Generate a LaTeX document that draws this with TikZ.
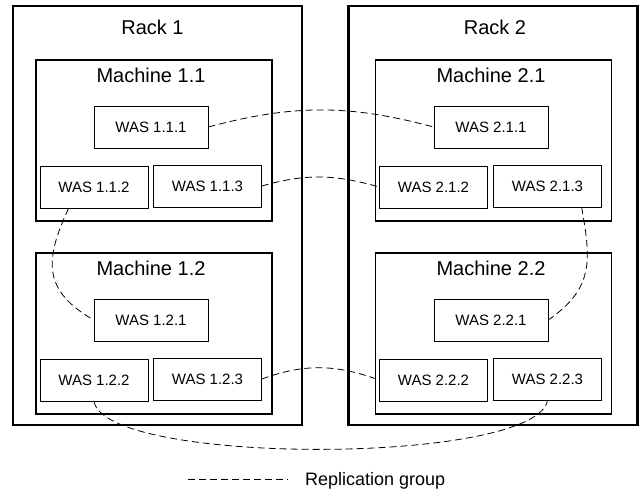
\documentclass[tikz,border=0pt]{standalone}
\usepackage{fontspec}
\setmainfont{Liberation Sans}

\begin{document}
\begin{tikzpicture}[x=1pt,y=1pt,
    rack/.style={draw,rectangle,line width=2.2pt,minimum width=289pt,minimum height=419pt},
    machine/.style={draw,rectangle,line width=1.2pt,minimum width=236pt,minimum height=161pt},
    was/.style={draw,rectangle,line width=0.7pt,minimum height=42pt,font=\fontsize{15}{18}\selectfont},
    title/.style={inner sep=0pt,anchor=base,font=\fontsize{20}{24}\selectfont},
    repl/.style={line width=0.8pt,dash pattern=on 7pt off 4pt}]
    \useasboundingbox (0,0) rectangle (640,-494);

    % Racks
    \node[rack] (rack1) at (157.5,-215.5) {};
    \node[rack] (rack2) at (493,-215.5) {};
    \node[title] (rack1t) at (152.5,-35) {Rack 1};
    \node[title] (rack2t) at (495,-35) {Rack 2};

    % Machines
    \node[machine] (m11) at (154,-140.5) {};
    \node[machine] (m12) at (154,-333.5) {};
    \node[machine] (m21) at (493.5,-140.5) {};
    \node[machine] (m22) at (493.5,-333.5) {};
    \node[title] (m11t) at (151,-83) {Machine 1.1};
    \node[title] (m12t) at (151,-276) {Machine 1.2};
    \node[title] (m21t) at (491,-83) {Machine 2.1};
    \node[title] (m22t) at (491,-276) {Machine 2.2};

    % WAS instances
    \node[was,minimum width=114pt] (w111) at (151,-127) {WAS 1.1.1};
    \node[was,minimum width=108pt] (w112) at (94,-187) {WAS 1.1.2};
    \node[was,minimum width=108pt] (w113) at (207.5,-186) {WAS 1.1.3};
    \node[was,minimum width=114pt] (w121) at (151,-320) {WAS 1.2.1};
    \node[was,minimum width=108pt] (w122) at (94,-380) {WAS 1.2.2};
    \node[was,minimum width=108pt] (w123) at (207.5,-379) {WAS 1.2.3};
    \node[was,minimum width=114pt] (w211) at (491,-127) {WAS 2.1.1};
    \node[was,minimum width=108pt] (w212) at (433.5,-187) {WAS 2.1.2};
    \node[was,minimum width=108pt] (w213) at (547.5,-186) {WAS 2.1.3};
    \node[was,minimum width=114pt] (w221) at (491,-320) {WAS 2.2.1};
    \node[was,minimum width=108pt] (w222) at (433.5,-380) {WAS 2.2.2};
    \node[was,minimum width=108pt] (w223) at (547.5,-379) {WAS 2.2.3};

    % Replication groups
    \draw[repl] (w111.east) to[out=15,in=165] (w211.west);
    \draw[repl] (w113.east) to[out=16,in=164] (w212.west);
    \draw[repl] (w123.east) to[out=20,in=160] (w222.west);
    \draw[repl] (w112.-140) to[out=-115,in=150,looseness=1.3] (w121.west);
    \draw[repl] (w213.-32) to[out=-80,in=35,looseness=1.2] (w221.east);
    \draw[repl] (w122.south) to[out=-80,in=-100,looseness=0.37] (w223.south);

    % Legend
    \coordinate (legA) at (188,-479);
    \coordinate (legB) at (288,-479);
    \node[anchor=base west,inner sep=0pt,font=\fontsize{18}{21}\selectfont] (legend) at (305,-485) {Replication group};
    \draw[repl] (legA) -- (legB);
\end{tikzpicture}
\end{document}
